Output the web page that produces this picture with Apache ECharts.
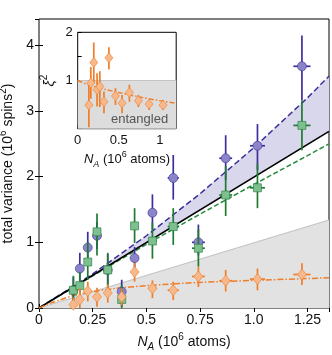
<!DOCTYPE html>
<html><head><meta charset="utf-8">
<script src="https://cdn.jsdelivr.net/npm/echarts@6/dist/echarts.min.js"></script>
<style>html,body{margin:0;padding:0;background:#fff}#c{width:332px;height:355px}</style>
</head><body><div id="c"></div>
<script>
const FONT = 'Liberation Sans, Arial, Helvetica, sans-serif';

// ---- main panel data (N_A in 10^6 atoms, variance in 10^6 spins^2) ----
const atomsN   = [0.16, 0.19, 0.227, 0.27, 0.32, 0.385, 0.445, 0.528, 0.625, 0.742, 0.869, 1.017, 1.224];
const atomsErr = [0.012, 0.012, 0.012, 0.014, 0.015, 0.015, 0.018, 0.02, 0.026, 0.03, 0.03, 0.035, 0.04];

const purpleVar = [0.27, 0.60, 0.92, 1.10, 0.58, 0.25, 0.76, 1.45, 1.98, 1.00, 2.28, 2.47, 3.68];
const purpleLo  = [0.10, 0.38, 0.68, 0.90, 0.35, 0.02, 0.55, 1.19, 1.65, 0.80, 1.95, 2.10, 3.16];
const purpleHi  = [0.47, 0.84, 1.16, 1.31, 0.82, 0.43, 0.93, 1.73, 2.33, 1.27, 2.63, 2.80, 4.15];

const greenVar = [0.27, 0.34, 0.70, 1.16, 0.58, 0.13, 1.25, 1.02, 1.24, 0.91, 1.72, 1.83, 2.78];
const greenLo  = [0.10, 0.14, 0.43, 0.80, 0.30, 0.00, 0.99, 0.75, 0.96, 0.63, 1.40, 1.52, 2.40];
const greenHi  = [0.49, 0.55, 1.00, 1.44, 0.84, 0.35, 1.52, 1.30, 1.52, 1.20, 2.16, 2.20, 3.16];

const orangeVar = [0.05, 0.13, 0.26, 0.17, 0.23, 0.17, 0.55, 0.30, 0.27, 0.48, 0.415, 0.44, 0.51];
const orangeLo  = [-0.06, -0.03, 0.10, 0.02, 0.08, 0.04, 0.40, 0.15, 0.12, 0.32, 0.25, 0.27, 0.35];
const orangeHi  = [0.16, 0.30, 0.40, 0.31, 0.36, 0.30, 0.69, 0.42, 0.40, 0.63, 0.58, 0.60, 0.68];

// fit / reference curves
const fitN        = [0, 0.25, 0.5, 0.75, 1.0, 1.25, 1.35];
const purpleFit   = [0, 0.52, 1.10, 1.74, 2.44, 3.20, 3.53];
const greenFit    = [0, 0.49, 0.97, 1.43, 1.88, 2.32, 2.50];
const lineEndsN   = [0, 1.35];
const blackLine   = [0, 2.69];
const shotNoise   = [0, 1.34];
const orangeFitN  = [0, 0.05, 0.1, 0.16, 0.25, 0.35, 0.5, 0.75, 1.0, 1.35];
const orangeFitV  = [0, 0.07, 0.125, 0.19, 0.25, 0.295, 0.34, 0.39, 0.42, 0.46];

// ---- inset data ----
const insetN   = [0.136, 0.16, 0.196, 0.236, 0.27, 0.32, 0.38, 0.46, 0.54, 0.63, 0.74, 0.87, 1.04];
const insetNErr= [0.012, 0.012, 0.012, 0.014, 0.015, 0.015, 0.018, 0.02, 0.025, 0.028, 0.03, 0.035, 0.04];
const insetXi  = [0.49, 0.95, 1.375, 0.81, 0.875, 0.56, 1.47, 0.68, 0.53, 0.75, 0.58, 0.51, 0.49];
const insetLo  = [0.03, 0.62, 0.95, 0.46, 0.45, 0.32, 1.23, 0.49, 0.32, 0.56, 0.45, 0.39, 0.39];
const insetHi  = [0.91, 1.28, 1.79, 1.15, 1.19, 0.77, 1.69, 0.84, 0.70, 0.91, 0.70, 0.61, 0.60];
const insetFitN = [0, 0.15, 0.35, 0.5, 0.75, 1.0, 1.2];
const insetFitXi= [1.0, 0.90, 0.81, 0.75, 0.66, 0.58, 0.53];
const insetBoundN = [0, 1.2];
const insetBound  = [1, 1];

const C = {
  purple: '#3b2f9c', purpleFill: '#8c84c8', band: '#d9d7ec',
  green: '#1f7a34', greenFill: '#7dbf8e', greenLine: '#248a3c',
  orange: '#f07d28', orangeFill: '#f7b88c',
  gray: '#c3c3c3', grayFill: '#e2e2e2'
};

const zip = (a, b) => a.map((v, i) => [v, b[i]]);

function errSeries(xs, ys, lo, hi, xe, color, axis, z) {
  return {
    type: 'custom', xAxisIndex: axis, yAxisIndex: axis, z, clip: true, silent: true,
    data: xs.map((x, i) => [x, ys[i], lo[i], hi[i], xe[i]]),
    encode: { x: 0, y: 1 },
    renderItem(params, api) {
      const x = api.value(0), y = api.value(1), l = api.value(2), h = api.value(3), e = api.value(4);
      const a = api.coord([x, l]), b = api.coord([x, h]);
      const c = api.coord([x - e, y]), d = api.coord([x + e, y]);
      const st = { stroke: color, lineWidth: 1.7 };
      return { type: 'group', children: [
        { type: 'line', shape: { x1: a[0], y1: a[1], x2: b[0], y2: b[1] }, style: st },
        { type: 'line', shape: { x1: c[0], y1: c[1], x2: d[0], y2: d[1] }, style: st }
      ]};
    }
  };
}
function markers(xs, ys, symbol, size, fill, edge, axis, z) {
  return { type: 'scatter', xAxisIndex: axis, yAxisIndex: axis, z, silent: true,
    symbol, symbolSize: size, data: zip(xs, ys),
    itemStyle: { color: fill, borderColor: edge, borderWidth: 0.6, opacity: 1 } };
}
function line(xs, ys, color, width, type, axis, z, area) {
  const s = { type: 'line', xAxisIndex: axis, yAxisIndex: axis, z, silent: true, symbol: 'none',
    data: zip(xs, ys), lineStyle: { color, width, type }, animation: false };
  if (area) s.areaStyle = { color: area, opacity: 1 };
  return s;
}

const rich = (fs) => ({
  t: { fontSize: fs, fontFamily: FONT, color: '#111', lineHeight: fs + 6 },
  i: { fontSize: fs, fontFamily: FONT, color: '#111', fontStyle: 'italic', lineHeight: fs + 6 },
  sub: { fontSize: fs - 4, fontFamily: FONT, color: '#111', fontStyle: 'italic', lineHeight: fs - 2, verticalAlign: 'bottom' },
  sup: { fontSize: fs - 4, fontFamily: FONT, color: '#111', lineHeight: fs - 4, verticalAlign: 'top' }
});

const axisCommon = {
  axisLine: { show: false },
  splitLine: { show: false },
  axisTick: { inside: true, length: 4, lineStyle: { color: '#000', width: 1 } }
};

const chart = echarts.init(document.getElementById('c'), null, { renderer: 'canvas' });
chart.setOption({
  animation: false,
  backgroundColor: '#fff',
  grid: [
    { left: 39, top: 19, width: 290, height: 289, outerBoundsMode: 'none', containLabel: false,
      show: true, borderColor: '#000', borderWidth: 1, backgroundColor: '#fff' },
    { left: 77.7, top: 32.3, width: 98.5, height: 96.4, outerBoundsMode: 'none', containLabel: false,
      show: true, borderColor: '#000', borderWidth: 1, backgroundColor: '#fff', z: 10 }
  ],
  xAxis: [
    Object.assign({}, axisCommon, { type: 'value', gridIndex: 0, min: 0, max: 1.35, interval: 0.25,
      axisLabel: { fontSize: 14, fontFamily: FONT, color: '#111', margin: 5, showMaxLabel: false,
        formatter: v => (v === 1 ? '1.0' : (v > 1.3 ? '' : String(v))) },
      name: '{i|N}{sub|A}{t| (10}{sup|6}{t| atoms)}', nameLocation: 'middle', nameGap: 24,
      nameTextStyle: { rich: rich(14) } }),
    Object.assign({}, axisCommon, { type: 'value', gridIndex: 0, position: 'top', min: 0, max: 1.35, interval: 0.25,
      axisLabel: { show: false } }),
    Object.assign({}, axisCommon, { type: 'value', gridIndex: 1, min: 0, max: 1.2, interval: 0.5, z: 12,
      axisLabel: { fontSize: 13, fontFamily: FONT, color: '#111', margin: 5, showMaxLabel: false,
        formatter: v => (v > 1.1 ? '' : String(v)) },
      name: '{i|N}{sub|A}{t| (10}{sup|6}{t| atoms)}', nameLocation: 'middle', nameGap: 21,
      nameTextStyle: { rich: rich(13) } })
  ],
  yAxis: [
    Object.assign({}, axisCommon, { type: 'value', gridIndex: 0, min: 0, max: 4.4, interval: 1,
      axisLabel: { fontSize: 14, fontFamily: FONT, color: '#111', margin: 5, showMaxLabel: false,
        formatter: v => (Number.isInteger(v) ? String(v) : '') },
      name: '{t|total variance (10}{sup|6}{t| spins}{sup|2}{t|)}', nameLocation: 'middle', nameGap: 17,
      nameTextStyle: { rich: rich(14) } }),
    Object.assign({}, axisCommon, { type: 'value', gridIndex: 0, position: 'right', min: 0, max: 4.4, interval: 1,
      axisLabel: { show: false } }),
    Object.assign({}, axisCommon, { type: 'value', gridIndex: 1, min: 0, max: 2, interval: 0.5, z: 12,
      axisLabel: { fontSize: 13, fontFamily: FONT, color: '#111', margin: 5,
        formatter: v => (v === 1 || v === 2 ? String(v) : '') },
      name: '{i|ξ}{sup|2}', nameLocation: 'middle', nameGap: 18,
      nameTextStyle: { rich: rich(14) } })
  ],
  graphic: [
    { type: 'text', left: 111, top: 113, z: 100,
      style: { text: 'entangled', fontSize: 13, fontFamily: FONT, fill: '#555' } }
  ],
  series: [
    line(lineEndsN, shotNoise, C.gray, 1.2, 'solid', 0, 1, C.grayFill),
    {
      type: 'custom', xAxisIndex: 0, yAxisIndex: 0, z: 2, silent: true, clip: true,
      data: zip(fitN, purpleFit),
      encode: { x: 0, y: 1 },
      renderItem(params, api) {
        if (params.dataIndex !== 0) return null;
        const pts = fitN.map((n, i) => api.coord([n, purpleFit[i]]));
        for (let i = lineEndsN.length - 1; i >= 0; i--) pts.push(api.coord([lineEndsN[i], blackLine[i]]));
        return { type: 'polygon', shape: { points: pts }, style: { fill: C.band } };
      }
    },
    line(fitN, purpleFit, C.purple, 1.5, [6, 3], 0, 3),
    line(fitN, greenFit, C.greenLine, 1.5, [5, 2.5], 0, 3),
    line(lineEndsN, blackLine, '#000', 1.6, 'solid', 0, 3),
    Object.assign(line(orangeFitN, orangeFitV, C.orange, 1.5, [6, 2, 1.5, 2], 0, 3), { smooth: 0.3 }),
    errSeries(atomsN, purpleVar, purpleLo, purpleHi, atomsErr, C.purple, 0, 5),
    markers(atomsN, purpleVar, 'circle', 9, C.purpleFill, C.purple, 0, 6),
    errSeries(atomsN, greenVar, greenLo, greenHi, atomsErr, C.green, 0, 7),
    markers(atomsN, greenVar, 'rect', 8, C.greenFill, C.green, 0, 8),
    errSeries(atomsN, orangeVar, orangeLo, orangeHi, atomsErr, C.orange, 0, 9),
    markers(atomsN, orangeVar, 'diamond', [9, 11], C.orangeFill, C.orange, 0, 10),
    line(insetBoundN, insetBound, C.gray, 1.2, 'solid', 2, 20, '#dddddd'),
    Object.assign(line(insetFitN, insetFitXi, C.orange, 1.5, [5, 2, 1.5, 2], 2, 21), { smooth: 0.3 }),
    errSeries(insetN, insetXi, insetLo, insetHi, insetNErr, C.orange, 2, 22),
    markers(insetN, insetXi, 'diamond', [8, 10], C.orangeFill, C.orange, 2, 23)
  ]
});
</script>
</body></html>
